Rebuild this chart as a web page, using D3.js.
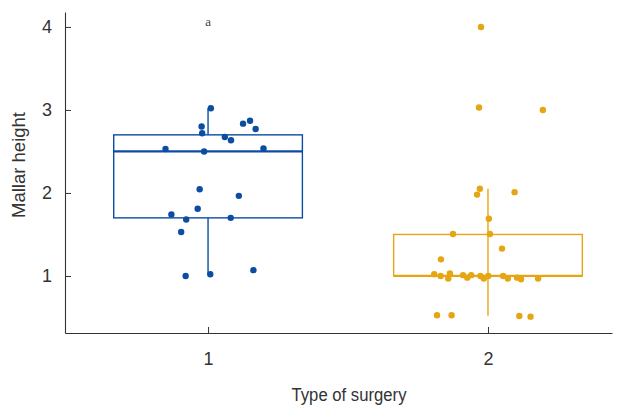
<!DOCTYPE html>
<html><head><meta charset="utf-8">
<script src="https://cdn.jsdelivr.net/npm/d3@7"></script>
<style>body{margin:0;background:#fff}svg{display:block}</style>
</head><body><svg id="c" width="625" height="405"></svg>
<script>
const categories = ["1", "2"];
const xTicks = [1, 2];
const yTicks = [1, 2, 3, 4];
const colors = ["#0c4da2", "#e6a614"];
// box stats: [min, q1, median, q3, max]
const box1 = [1.02, 1.70, 2.50, 2.70, 3.02];
const box2 = [0.52, 1.00, 1.00, 1.50, 2.05];
// jittered points [x, y]
const pts1 = [[1.01,3.02],[0.977,2.80],[0.979,2.72],[1.125,2.835],[1.15,2.87],[1.17,2.77],[1.06,2.675],[1.082,2.635],[0.848,2.53],[0.986,2.50],[1.198,2.535],[0.97,2.045],[1.11,1.965],[0.963,1.81],[0.869,1.74],[0.922,1.68],[1.081,1.70],[0.904,1.53],[0.92,1.00],[1.008,1.02],[1.162,1.07]];
const pts2 = [[1.975,4.0],[1.968,3.03],[2.196,3.0],[1.971,2.05],[1.961,1.98],[2.095,2.01],[2.003,1.69],[1.875,1.506],[2.007,1.506],[2.05,1.33],[1.832,1.20],[1.808,1.02],[1.831,1.0],[1.858,0.97],[1.864,1.03],[1.911,1.01],[1.926,0.98],[1.94,1.01],[1.973,1.0],[1.985,0.97],[2.001,1.0],[2.054,1.0],[2.071,0.97],[2.104,0.98],[2.118,0.96],[2.179,0.97],[1.818,0.527],[1.87,0.527],[2.112,0.518],[2.152,0.51]];
const annotation = "a";

const svg = d3.select("#c");
const x = d3.scaleLinear().domain([0.489, 2.443]).range([65, 612]);
const y = d3.scaleLinear().domain([0.313, 4.18]).range([333, 12]);
const font = "'Liberation Sans',Arial,sans-serif";

// axes
const yAx = svg.append("g").attr("transform","translate(65,0)")
  .call(d3.axisLeft(y).tickValues(yTicks).tickSizeInner(-6).tickSizeOuter(0).tickPadding(13).tickFormat(d3.format("d")));
const xAx = svg.append("g").attr("transform","translate(0,333)")
  .call(d3.axisBottom(x).tickValues(xTicks).tickSizeInner(-6).tickSizeOuter(0).tickPadding(19).tickFormat((d,i)=>categories[i]));
[yAx,xAx].forEach(a=>{
  a.select(".domain").attr("stroke","#333").attr("stroke-width",1.1);
  a.selectAll(".tick line").attr("stroke","#333");
  a.selectAll("text").attr("font-family",font).attr("font-size",18).attr("fill","#333");
});

const boxes = [box1, box2];
const boxHalf = 0.337;
const groups = [pts1, pts2];
boxes.forEach((b,i)=>{
  const cx = x(i+1), c = colors[i];
  const g = svg.append("g");
  g.append("line").attr("x1",cx).attr("x2",cx).attr("y1",y(b[0])).attr("y2",y(b[4])).attr("stroke",c).attr("stroke-width",1.4);
  g.append("rect").attr("x",x(i+1-boxHalf)).attr("width",x(i+1+boxHalf)-x(i+1-boxHalf))
    .attr("y",y(b[3])).attr("height",y(b[1])-y(b[3]))
    .attr("fill", i===0 ? "#fff" : "none").attr("stroke",c).attr("stroke-width",1.4);
  g.append("line").attr("x1",x(i+1-boxHalf)).attr("x2",x(i+1+boxHalf)).attr("y1",y(b[2])).attr("y2",y(b[2])).attr("stroke",c).attr("stroke-width",2.2);
  g.selectAll("circle").data(groups[i]).join("circle")
    .attr("cx",d=>x(d[0])).attr("cy",d=>y(d[1])).attr("r",3.2).attr("fill",c);
});

svg.append("text").attr("x",x(1)).attr("y",26).attr("text-anchor","middle")
  .attr("font-family","'Liberation Serif','DejaVu Serif',serif").attr("font-size",13).attr("fill","#444").text(annotation);

svg.append("text").attr("transform","translate(25,165) rotate(-90)").attr("text-anchor","middle")
  .attr("font-family",font).attr("font-size",18).attr("fill","#333")
  .attr("textLength",106).attr("lengthAdjust","spacingAndGlyphs").text("Mallar height");
svg.append("text").attr("x",349).attr("y",401).attr("text-anchor","middle")
  .attr("font-family",font).attr("font-size",18).attr("fill","#333")
  .attr("textLength",115).attr("lengthAdjust","spacingAndGlyphs").text("Type of surgery");
</script></body></html>
